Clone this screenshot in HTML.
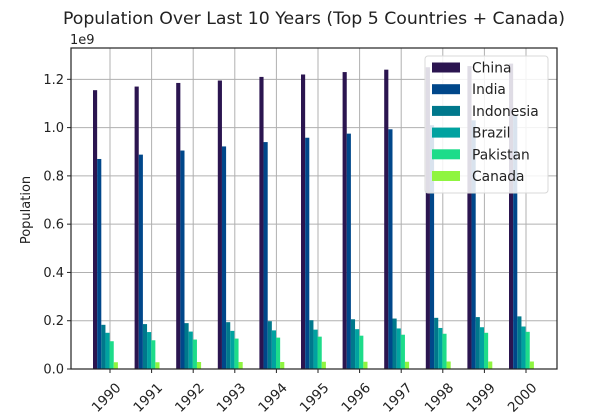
<!DOCTYPE html>
<html><head><meta charset="utf-8"><style>
body{margin:0;background:#fff;}
svg{display:block;font-family:"DejaVu Sans","Liberation Sans",sans-serif;}
</style></head><body>
<svg id="chart" width="602" height="413">
<rect width="602" height="413" fill="#fff"/>
<text x="314" y="24" text-anchor="middle" font-size="17.3" fill="#222">Population Over Last 10 Years (Top 5 Countries + Canada)</text>
<text x="70" y="44" font-size="13" fill="#222">1e9</text>
<text transform="translate(30,210) rotate(-90)" text-anchor="middle" font-size="13" fill="#222">Population</text>
<g id="grid"></g><g id="bars"></g><g id="axes"></g><g id="legend"></g>
</svg>
<script>
const years=["1990","1991","1992","1993","1994","1995","1996","1997","1998","1999","2000"];
const seriesNames=["China","India","Indonesia","Brazil","Pakistan","Canada"];
const china=[1.155,1.17,1.185,1.195,1.21,1.22,1.23,1.24,1.25,1.255,1.265];
const india=[0.87,0.888,0.905,0.922,0.94,0.958,0.975,0.993,1.01,1.03,1.05];
const indonesia=[0.183,0.186,0.19,0.194,0.198,0.202,0.206,0.209,0.212,0.215,0.218];
const brazil=[0.15,0.153,0.155,0.158,0.16,0.163,0.165,0.168,0.17,0.173,0.176];
const pakistan=[0.115,0.119,0.122,0.126,0.13,0.134,0.138,0.142,0.146,0.15,0.154];
const canada=[0.028,0.028,0.029,0.029,0.029,0.030,0.030,0.030,0.031,0.031,0.031];
const yTicks=[0,0.2,0.4,0.6,0.8,1.0,1.2];
const colors=["#2b1550","#00478a","#00788c","#00a2a0","#1ddc8a","#8ff540"];
const all=[china,india,indonesia,brazil,pakistan,canada];
const NS="http://www.w3.org/2000/svg";
const L=71,R=557,T=48,B=369;
const yS=v=>B-v*241.4;
const xS=i=>110+i*41.6;
const bw=4.15;
function mk(tag,attrs,parent){const e=document.createElementNS(NS,tag);for(const k in attrs)e.setAttribute(k,attrs[k]);parent.appendChild(e);return e;}
const grid=document.getElementById('grid'),bars=document.getElementById('bars'),axes=document.getElementById('axes'),leg=document.getElementById('legend');
yTicks.forEach(t=>{
 const g=mk('line',{x1:L,x2:R,y1:yS(t),y2:yS(t),stroke:'#b0b0b0','stroke-width':1},grid);
 
 
 mk('line',{x1:L-4,x2:L,y1:yS(t),y2:yS(t),stroke:'#222'},axes);
 const tx=mk('text',{x:L-7,y:yS(t)+4.5,'text-anchor':'end','font-size':13,fill:'#222'},axes);
 tx.textContent=t.toFixed(1);
 
 
});
years.forEach((y,i)=>{
 const g=mk('line',{x1:xS(i),x2:xS(i),y1:T,y2:B,stroke:'#b0b0b0','stroke-width':1},grid);
 
 
 mk('line',{x1:xS(i),x2:xS(i),y1:B,y2:B+4,stroke:'#222'},axes);
 const tx=mk('text',{transform:`translate(${xS(i)+3},${B+11}) rotate(-45)`,'text-anchor':'end','font-size':13.5,fill:'#222'},axes);
 tx.setAttribute('dy','0.9em');
 tx.textContent=y;
 
 
});
all.forEach((s,si)=>{
 s.forEach((v,i)=>{
  const x=xS(i)-17+si*bw;
  const r=mk('rect',{x:x,y:yS(v),width:bw,height:B-yS(v),fill:colors[si]},bars);
  
  
 });
});
const sp=mk('rect',{x:L,y:T,width:R-L,height:B-T,fill:'none',stroke:'#222','stroke-width':1.2},axes);


const lb=mk('rect',{x:425,y:56,width:123,height:137,rx:3,fill:'#fff','fill-opacity':0.85,stroke:'#d8d8d8'},leg);


seriesNames.forEach((n,i)=>{
 const cy=67.5+i*21.7;
 const p=mk('rect',{x:432,y:cy-5,width:28,height:10,fill:colors[i]},leg);
 
 
 const t=mk('text',{x:472,y:cy+5,'font-size':13.8,fill:'#222'},leg);
 t.textContent=n;
 
 
});
</script>
</body></html>
